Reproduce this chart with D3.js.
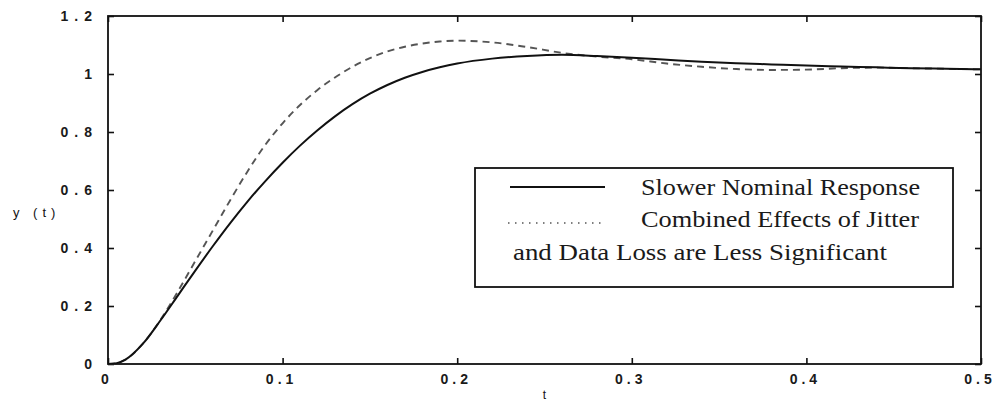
<!DOCTYPE html>
<html>
<head>
<meta charset="utf-8">
<script src="https://cdn.jsdelivr.net/npm/d3@7/dist/d3.min.js"></script>
<style>
  html, body { margin: 0; padding: 0; background: #fff; }
  svg { display: block; }
</style>
</head>
<body>
<svg id="chart" width="998" height="402"></svg>
<script>
// ---- data ----
const tValues = [0, 0.005, 0.01, 0.02, 0.03, 0.04, 0.05, 0.06, 0.07, 0.08, 0.09, 0.10,
  0.11, 0.12, 0.13, 0.14, 0.15, 0.16, 0.17, 0.18, 0.19, 0.20, 0.22, 0.24, 0.26, 0.28,
  0.30, 0.32, 0.34, 0.36, 0.38, 0.40, 0.42, 0.44, 0.46, 0.48, 0.50];
const slowerNominal = [0, 0.003, 0.015, 0.07, 0.15, 0.236, 0.322, 0.406, 0.486, 0.561, 0.63, 0.694,
  0.753, 0.806, 0.854, 0.896, 0.932, 0.962, 0.987, 1.007, 1.023, 1.036, 1.053, 1.062, 1.066, 1.062,
  1.056, 1.049, 1.042, 1.037, 1.033, 1.029, 1.026, 1.023, 1.02, 1.018, 1.016];
const combinedEffects = [0, 0.003, 0.015, 0.07, 0.152, 0.25, 0.355, 0.46, 0.565, 0.665, 0.755, 0.83,
  0.893, 0.945, 0.988, 1.025, 1.055, 1.078, 1.094, 1.105, 1.112, 1.115, 1.109, 1.093, 1.073, 1.06,
  1.051, 1.036, 1.025, 1.017, 1.014, 1.015, 1.02, 1.022, 1.02, 1.018, 1.016];
const xTickValues = [0, 0.1, 0.2, 0.3, 0.4, 0.5];
const xTickLabels = ["0", "0.1", "0.2", "0.3", "0.4", "0.5"];
const yTickValues = [0, 0.2, 0.4, 0.6, 0.8, 1.0, 1.2];
const yTickLabels = ["0", "0.2", "0.4", "0.6", "0.8", "1", "1.2"];
const legendLabels = ["Slower Nominal Response", "Combined Effects of Jitter", "and Data Loss are Less Significant"];
const xLabel = "t";
const yLabel = "y (t)";

// ---- layout ----
const svg = d3.select("#chart");
const L = 108, R = 981, T = 16, B = 364;
const x = d3.scaleLinear().domain([0, 0.5]).range([L, R]);
const y = d3.scaleLinear().domain([0, 1.2]).range([B, T]);

const ink = "#111";
const sans = "'Liberation Sans', Arial, Helvetica, sans-serif";
const serif = "'Liberation Serif', 'Times New Roman', serif";

// axes with inward ticks on all four sides
const axB = svg.append("g").attr("transform", `translate(0,${B})`)
  .call(d3.axisBottom(x).tickValues(xTickValues).tickSizeInner(-6).tickSizeOuter(0).tickFormat(""));
const axT = svg.append("g").attr("transform", `translate(0,${T})`)
  .call(d3.axisTop(x).tickValues(xTickValues).tickSizeInner(-6).tickSizeOuter(0).tickFormat(""));
const axL = svg.append("g").attr("transform", `translate(${L},0)`)
  .call(d3.axisLeft(y).tickValues(yTickValues).tickSizeInner(-6).tickSizeOuter(0).tickFormat(""));
const axRt = svg.append("g").attr("transform", `translate(${R},0)`)
  .call(d3.axisRight(y).tickValues(yTickValues).tickSizeInner(-6).tickSizeOuter(0).tickFormat(""));
[axB, axT, axL, axRt].forEach(g => {
  g.select(".domain").remove();
  g.selectAll(".tick line").attr("stroke", ink).attr("stroke-width", 1.6);
});

// frame
svg.append("rect").attr("x", L).attr("y", T).attr("width", R - L).attr("height", B - T)
  .attr("fill", "none").attr("stroke", ink).attr("stroke-width", 1.8);

// tick labels
svg.append("g").selectAll("text").data(yTickValues).join("text")
  .attr("x", L - 16 + 6).attr("y", d => y(d)).attr("dy", "0.36em")
  .attr("text-anchor", "end")
  .attr("font-family", sans).attr("font-size", 14).attr("font-weight", "bold")
  .attr("letter-spacing", 6)
  .attr("fill", "#1a1a1a")
  .text((d, i) => yTickLabels[i]);

svg.append("g").selectAll("text").data(xTickValues).join("text")
  .attr("x", d => x(d) - 1).attr("y", 384)
  .attr("text-anchor", "middle")
  .attr("font-family", sans).attr("font-size", 14).attr("font-weight", "bold")
  .attr("letter-spacing", 4)
  .attr("fill", "#1a1a1a")
  .text((d, i) => xTickLabels[i]);

// axis labels
svg.append("text").attr("x", (L + R) / 2).attr("y", 399).attr("text-anchor", "middle")
  .attr("font-family", sans).attr("font-size", 12).attr("fill", ink).text(xLabel);
svg.append("text").attr("x", 13).attr("y", 217)
  .attr("font-family", sans).attr("font-size", 13).attr("letter-spacing", 5).attr("fill", ink).text(yLabel);

// curves
const line = d3.line().x((d, i) => x(tValues[i])).y(d => y(d)).curve(d3.curveMonotoneX);
svg.append("path").datum(combinedEffects).attr("d", line)
  .attr("fill", "none").attr("stroke", "#555").attr("stroke-width", 1.9)
  .attr("stroke-dasharray", "7,5");
svg.append("path").datum(slowerNominal).attr("d", line)
  .attr("fill", "none").attr("stroke", ink).attr("stroke-width", 2);

// legend
const lg = svg.append("g");
lg.append("rect").attr("x", 475).attr("y", 168).attr("width", 953 - 475).attr("height", 287 - 168)
  .attr("fill", "#fff").attr("stroke", ink).attr("stroke-width", 1.8);
lg.append("line").attr("x1", 510).attr("x2", 605).attr("y1", 187).attr("y2", 187)
  .attr("stroke", ink).attr("stroke-width", 2);
lg.append("line").attr("x1", 508).attr("x2", 605).attr("y1", 223).attr("y2", 223)
  .attr("stroke", "#555").attr("stroke-width", 1.5).attr("stroke-dasharray", "1.5,5.5");
const legPos = [[641, 195, 279], [641, 227, 278], [513, 260, 374]];
lg.selectAll("text.leg").data(legendLabels).join("text").attr("class", "leg")
  .attr("x", (d, i) => legPos[i][0]).attr("y", (d, i) => legPos[i][1])
  .attr("textLength", (d, i) => legPos[i][2]).attr("lengthAdjust", "spacingAndGlyphs")
  .attr("font-family", serif).attr("font-size", 24).attr("fill", "#1a1a1a")
  .text(d => d);
</script>
</body>
</html>
